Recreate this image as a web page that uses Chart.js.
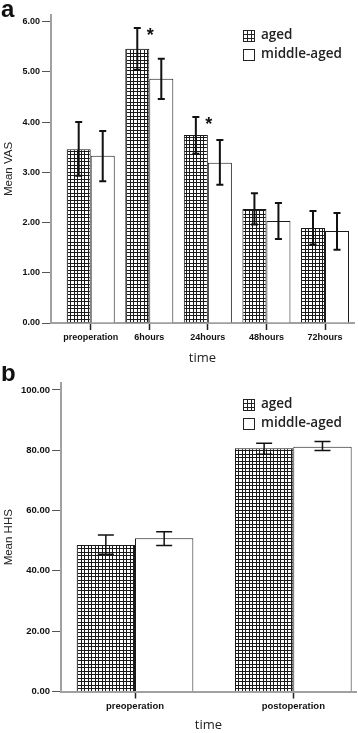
<!DOCTYPE html>
<html>
<head>
<meta charset="utf-8">
<script src="https://cdn.jsdelivr.net/npm/chart.js@4.4.1/dist/chart.umd.min.js"></script>
<style>
  body { margin: 0; background: #fff; }
  .panel { position: absolute; left: 0; }
</style>
</head>
<body>
<div class="panel" style="top:0"><canvas id="vasChart" width="358" height="366"></canvas></div>
<div class="panel" style="top:366px"><canvas id="hhsChart" width="358" height="367"></canvas></div>
<script>
// panel a - VAS
const vasLabels = ['preoperation', '6hours', '24hours', '48hours', '72hours'];
const vasAged = [3.46, 5.46, 3.74, 2.27, 1.89];
const vasAgedLow = [2.93, 5.04, 3.37, 1.96, 1.56];
const vasAgedHigh = [4.00, 5.87, 4.10, 2.58, 2.23];
const vasMid = [3.33, 4.86, 3.19, 2.03, 1.83];
const vasMidLow = [2.82, 4.46, 2.75, 1.67, 1.46];
const vasMidHigh = [3.82, 5.26, 3.64, 2.39, 2.19];
const vasSig = ['', '*', '*', '', ''];
const vasTicks = [0, 1, 2, 3, 4, 5, 6];

// panel b - HHS
const hhsLabels = ['preoperation', 'postoperation'];
const hhsAged = [48.6, 80.7];
const hhsAgedLow = [45.5, 78.7];
const hhsAgedHigh = [51.9, 82.3];
const hhsMid = [50.8, 81.2];
const hhsMidLow = [48.4, 79.9];
const hhsMidHigh = [53.0, 82.9];
const hhsSig = ['', ''];
const hhsTicks = [0, 20, 40, 60, 80, 100];

const tickFont = "'Liberation Sans', Arial, sans-serif";
const legendFont = "'Open Sans', sans-serif";

function gridPattern() {
    const c = document.createElement('canvas');
    c.width = 7;
    c.height = 7;
    const g = c.getContext('2d');
    g.fillStyle = '#fff';
    g.fillRect(0, 0, 7, 7);
    g.fillStyle = '#1a1a1a';
    g.fillRect(0, 0, 7, 1);
    g.fillRect(0, 4, 7, 1);
    g.fillRect(0, 0, 1, 7);
    g.fillRect(4, 0, 1, 7);
    return g.createPattern(c, 'repeat');
}

function toPoints(values) {
    return values.map((v, i) => ({ x: i, y: v }));
}

// error bars, significance marks, legend and panel letter
const extrasPlugin = {
    id: 'extras',
    afterDatasetsDraw(chart, args, opts) {
        const ctx = chart.ctx;
        const yScale = chart.scales.y;
        ctx.save();
        ctx.strokeStyle = '#111';
        opts.errors.forEach((err, d) => {
            const meta = chart.getDatasetMeta(d);
            meta.data.forEach((bar, i) => {
                const top = yScale.getPixelForValue(err.high[i]);
                const bottom = yScale.getPixelForValue(err.low[i]);
                ctx.lineWidth = opts.errWidth;
                ctx.beginPath();
                ctx.moveTo(bar.x, top);
                ctx.lineTo(bar.x, bottom);
                ctx.moveTo(bar.x - opts.cap, top);
                ctx.lineTo(bar.x + opts.cap, top);
                ctx.moveTo(bar.x - opts.cap, bottom);
                ctx.lineTo(bar.x + opts.cap, bottom);
                ctx.stroke();
            });
        });

        // asterisks over the aged bars
        const agedMeta = chart.getDatasetMeta(0);
        ctx.fillStyle = '#111';
        ctx.font = "bold 18px 'Liberation Sans', Arial, sans-serif";
        ctx.textAlign = 'center';
        ctx.textBaseline = 'alphabetic';
        opts.sig.forEach((s, i) => {
            if (!s) return;
            const bar = agedMeta.data[i];
            const top = yScale.getPixelForValue(opts.errors[0].high[i]);
            ctx.fillText(s, bar.x + 13, top + 13);
        });

        // legend
        const lg = opts.legend;
        ctx.font = '600 13.5px ' + legendFont;
        ctx.textAlign = 'left';
        ctx.textBaseline = 'middle';
        chart.data.datasets.forEach((ds, d) => {
            const y = lg.y + d * lg.step;
            ctx.fillStyle = '#fff';
            ctx.fillRect(lg.x, y, 11, 11);
            ctx.strokeStyle = '#222';
            ctx.lineWidth = 1;
            ctx.strokeRect(lg.x + 0.5, y + 0.5, 11, 11);
            if (d === 0) {
                ctx.beginPath();
                ctx.moveTo(lg.x + 4.5, y);
                ctx.lineTo(lg.x + 4.5, y + 11);
                ctx.moveTo(lg.x + 8.5, y);
                ctx.lineTo(lg.x + 8.5, y + 11);
                ctx.moveTo(lg.x, y + 4.5);
                ctx.lineTo(lg.x + 11, y + 4.5);
                ctx.moveTo(lg.x, y + 8.5);
                ctx.lineTo(lg.x + 11, y + 8.5);
                ctx.stroke();
            }
            ctx.fillStyle = '#222';
            ctx.fillText(ds.label, lg.x + 18, y + 5);
        });

        // panel letter
        ctx.font = "bold 24px 'Liberation Sans', Arial, sans-serif";
        ctx.fillStyle = '#111';
        ctx.textBaseline = 'alphabetic';
        ctx.fillText(opts.letter, 1, opts.letterY);
        ctx.restore();
    }
};

function makeChart(id, cfg) {
    const ctx = document.getElementById(id).getContext('2d');
    const pattern = gridPattern();
    return new Chart(ctx, {
        type: 'bar',
        data: {
            datasets: [
                {
                    label: 'aged',
                    data: toPoints(cfg.aged),
                    backgroundColor: pattern,
                    borderColor: '#1a1a1a',
                    borderWidth: 1
                },
                {
                    label: 'middle-aged',
                    data: toPoints(cfg.mid),
                    backgroundColor: '#fff',
                    borderColor: '#1a1a1a',
                    borderWidth: 1
                }
            ]
        },
        options: {
            responsive: false,
            animation: false,
            devicePixelRatio: 1,
            categoryPercentage: cfg.catPct,
            barPercentage: 1,
            layout: { padding: { top: cfg.top, right: cfg.right, left: 0, bottom: 0 } },
            plugins: {
                legend: { display: false },
                tooltip: { enabled: false },
                extras: {
                    errors: [
                        { low: cfg.agedLow, high: cfg.agedHigh },
                        { low: cfg.midLow, high: cfg.midHigh }
                    ],
                    sig: cfg.sig,
                    errWidth: cfg.errWidth,
                    cap: cfg.cap,
                    legend: cfg.legend,
                    letter: cfg.letter,
                    letterY: cfg.letterY
                }
            },
            scales: {
                x: {
                    type: 'linear',
                    offset: false,
                    min: cfg.xMin,
                    max: cfg.xMax,
                    afterBuildTicks: scale => {
                        scale.ticks = cfg.labels.map((_, i) => ({ value: i }));
                    },
                    afterFit: scale => { scale.height = cfg.xHeight; },
                    ticks: {
                        autoSkip: false,
                        maxRotation: 0,
                        padding: 2,
                        color: '#111',
                        font: { family: tickFont, size: cfg.tickSize, weight: 'bold' },
                        callback: v => cfg.labels[v]
                    },
                    grid: {
                        offset: false,
                        drawOnChartArea: false,
                        drawTicks: true,
                        tickLength: 7,
                        tickColor: '#222',
                        tickWidth: 1.5
                    },
                    border: { color: '#a0a0a0', width: 2 },
                    title: {
                        display: true,
                        text: 'time',
                        color: '#222',
                        padding: 0,
                        font: { family: legendFont, size: 13 }
                    }
                },
                y: {
                    min: 0,
                    max: cfg.yMax,
                    afterBuildTicks: scale => {
                        scale.ticks = cfg.yTicks.map(v => ({ value: v }));
                    },
                    afterFit: scale => { scale.width = cfg.yWidth; },
                    ticks: {
                        padding: 2,
                        color: '#111',
                        font: { family: tickFont, size: cfg.tickSize, weight: 'bold' },
                        callback: v => v.toFixed(2)
                    },
                    grid: {
                        drawOnChartArea: false,
                        drawTicks: true,
                        tickLength: 9,
                        tickColor: '#555',
                        tickWidth: 1
                    },
                    border: { color: '#a0a0a0', width: 2 },
                    title: {
                        display: true,
                        text: cfg.yTitle,
                        color: '#222',
                        padding: { top: 2, bottom: 0 },
                        font: { family: "'Liberation Sans', Arial, sans-serif", size: 11.5 }
                    }
                }
            }
        },
        plugins: [extrasPlugin]
    });
}

makeChart('vasChart', {
    labels: vasLabels,
    aged: vasAged, agedLow: vasAgedLow, agedHigh: vasAgedHigh,
    mid: vasMid, midLow: vasMidLow, midHigh: vasMidHigh,
    sig: vasSig,
    yTicks: vasTicks,
    yMax: 6.13,
    yTitle: 'Mean VAS',
    xMin: -0.678,
    xMax: 4.495,
    catPct: 0.82,
    top: 15,
    right: 4,
    xHeight: 43,
    yWidth: 51,
    tickSize: 9,
    errWidth: 2,
    cap: 3.5,
    legend: { x: 243, y: 30, step: 19 },
    letter: 'a',
    letterY: 17
});

makeChart('hhsChart', {
    labels: hhsLabels,
    aged: hhsAged, agedLow: hhsAgedLow, agedHigh: hhsAgedHigh,
    mid: hhsMid, midLow: hhsMidLow, midHigh: hhsMidHigh,
    sig: hhsSig,
    yTicks: hhsTicks,
    yMax: 102.3,
    yTitle: 'Mean HHS',
    xMin: -0.4675,
    xMax: 1.396,
    catPct: 0.737,
    top: 17,
    right: 2,
    xHeight: 41.5,
    yWidth: 61,
    tickSize: 9.5,
    errWidth: 1.5,
    cap: 8,
    legend: { x: 243, y: 33, step: 19 },
    letter: 'b',
    letterY: 15
});
</script>
</body>
</html>
